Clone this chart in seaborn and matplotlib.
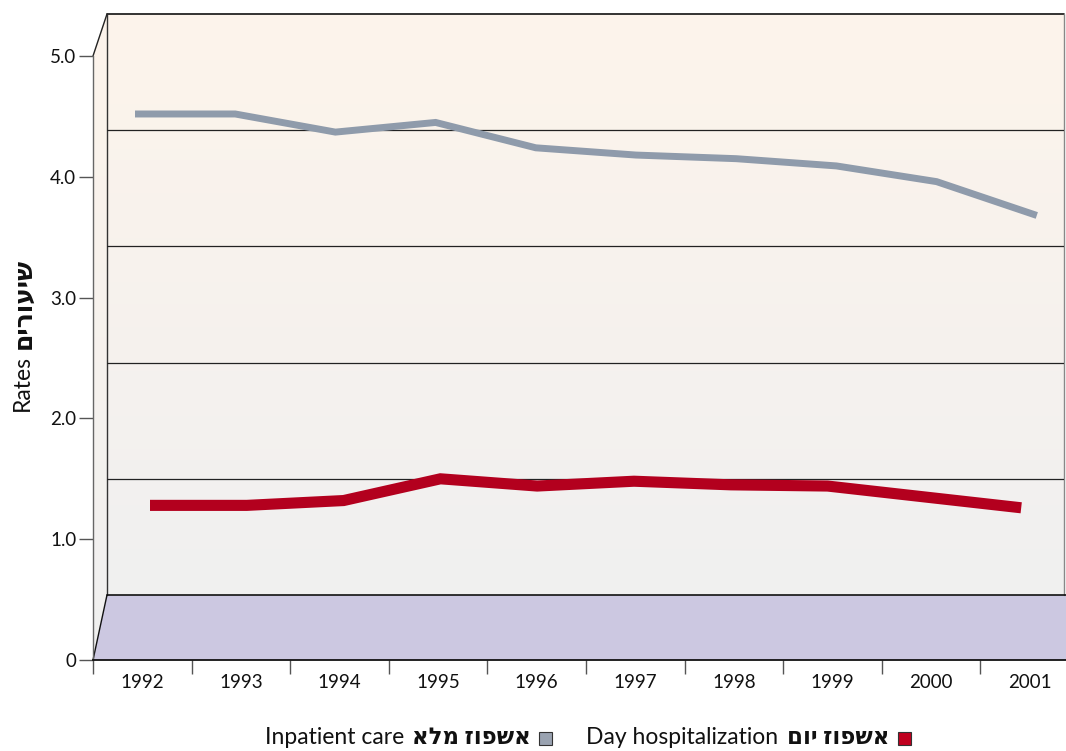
import numpy as np
import pandas as pd
import seaborn as sns
import matplotlib.pyplot as plt
from matplotlib.patches import Polygon, Rectangle
from matplotlib.offsetbox import TextArea, DrawingArea, HPacker, AnchoredOffsetbox

# data
years = [str(y) for y in range(1992, 2002)]
inpatient = [4.52, 4.52, 4.37, 4.45, 4.24, 4.18, 4.15, 4.09, 3.96, 3.68]
day_hosp = [1.28, 1.28, 1.32, 1.50, 1.44, 1.48, 1.45, 1.44, 1.35, 1.26]
ytick_vals = [0, 1, 2, 3, 4, 5]
ytick_labels = ["0", "1.0", "2.0", "3.0", "4.0", "5.0"]
grid_vals = [1, 2, 3, 4]

df = pd.DataFrame({"idx": range(len(years)), "inpatient": inpatient, "day": day_hosp})

sns.set_theme(style="white")
plt.rcParams['font.family'] = ['Lato', 'DejaVu Sans']

W, H = 1066, 751
fig = plt.figure(figsize=(W / 100, H / 100), dpi=100)
fig.patch.set_facecolor("white")


def px_rect(left, top, right, bottom):
    return [left / W, 1 - bottom / H, (right - left) / W, (bottom - top) / H]


# pseudo 3d frame geometry (pixels)
FL, FT, FB, FR = 93, 56, 660, 1079      # front plane
BL, BT, BB, BR = 107, 14, 595, 1064     # back wall

bg = fig.add_axes([0, 0, 1, 1], zorder=0)
bg.set_xlim(0, W)
bg.set_ylim(H, 0)
bg.axis("off")

top_c = np.array([253, 244, 235]) / 255
bot_c = np.array([240, 240, 240]) / 255
t = np.linspace(0, 1, 256)[:, None, None]
grad = top_c * (1 - t) + bot_c * t
bg.imshow(grad, extent=(BL, BR, BB, BT), aspect="auto", interpolation="bilinear")

side = Polygon([(FL, FB), (FL, FT), (BL, BT), (BL, BB)], closed=True, fc="none", ec="none")
bg.add_patch(side)
im = bg.imshow(grad, extent=(FL, BL, FB, BT), aspect="auto", interpolation="bilinear")
im.set_clip_path(side)

floor = Polygon([(FL, FB), (FR + 20, FB), (BR + 20, BB), (BL, BB)], closed=True,
                fc="#ccc8e1", ec="none")
bg.add_patch(floor)

bg.plot([BL, BR], [BT, BT], color="#111", lw=1.2)
bg.plot([BL, BL], [BT, BB], color="#333", lw=1)
bg.plot([BR, BR], [BT, BB], color="#888", lw=1)
bg.plot([BL, W], [BB, BB], color="#111", lw=1.2)
bg.plot([FL, BL], [FB, BB], color="#111", lw=1)
bg.plot([FL, BL], [FT, BT], color="#222", lw=1)
bg.set_xlim(0, W)
bg.set_ylim(H, 0)

# back wall gridlines
back = fig.add_axes(px_rect(BL, BT, BR, BB), zorder=1)
back.set_facecolor("none")
back.set_ylim(0, 5)
back.set_xlim(0, 1)
for g in grid_vals:
    back.axhline(g, color="#222", lw=0.9)
back.axis("off")

# series ribbons, each at its own depth
ax_g = fig.add_axes(px_rect(84.9, FT, 1086.9, FB), zorder=2)
ax_r = fig.add_axes(px_rect(101.6, FT, 1069.6, FB), zorder=2)
sns.lineplot(data=df, x="idx", y="inpatient", ax=ax_g, color="#8f9bab", linewidth=5,
             solid_capstyle="butt", solid_joinstyle="miter")
sns.lineplot(data=df, x="idx", y="day", ax=ax_r, color="#b3001e", linewidth=8,
             solid_capstyle="butt", solid_joinstyle="miter")
for a in (ax_g, ax_r):
    a.set_xlim(-0.5, 9.5)
    a.set_ylim(0, 5)
    a.set_facecolor("none")
    a.axis("off")

# front axes with ticks
ax = fig.add_axes(px_rect(FL, FT, FR, FB), zorder=3)
ax.set_facecolor("none")
ax.set_xlim(-0.5, 9.5)
ax.set_ylim(0, 5)
ax.set_yticks(ytick_vals)
ax.set_yticklabels(ytick_labels)
ax.set_xticks(range(len(years)))
ax.set_xticklabels(years)
ax.set_xticks(np.arange(-0.5, 9, 1), minor=True)
ax.tick_params(axis="x", which="major", length=0, pad=10, labelsize=13.5, labelcolor="#111")
ax.tick_params(axis="x", which="minor", length=10, width=1, color="#555", direction="out", bottom=True)
ax.tick_params(axis="y", length=10, width=1, color="#555", direction="out", left=True,
               pad=2, labelsize=13.5, labelcolor="#111")
for s in ("top", "right"):
    ax.spines[s].set_visible(False)
ax.spines["left"].set_color("#666")
ax.spines["left"].set_linewidth(1)
ax.spines["bottom"].set_color("#111")
ax.spines["bottom"].set_linewidth(1.3)
ax.set_xlabel("")
ax.set_ylabel("")

# y label: "Rates" + Hebrew (visual order)
t1 = fig.text(22 / W, 1 - 411 / H, "Rates", rotation=90, ha="center", va="bottom",
              fontsize=16.5, color="#111")
fig.canvas.draw()
bb = t1.get_window_extent()
fig.text(23 / W, (bb.y1 + 6) / H, "שיעורים"[::-1], rotation=90, ha="center", va="bottom",
         fontsize=18, fontweight="bold", color="#111")


# legend, RTL style: text then square
def entry(en, he, color):
    sq = DrawingArea(10, 10, 0, 0)
    sq.add_artist(Rectangle((0, 0), 9.5, 9.5, fc=color, ec="#333", lw=0.8))
    return HPacker(children=[TextArea(en, textprops=dict(fontsize=16.5, color="#111")),
                             TextArea(he[::-1], textprops=dict(fontsize=16.5, fontweight="bold", color="#111")),
                             sq], align="center", pad=0, sep=6)


leg = HPacker(children=[entry("Inpatient care", "אשפוז מלא", "#9aa3b1"),
                        entry("Day hospitalization", "אשפוז יום", "#c0001f")],
              align="center", pad=0, sep=24)
anch = AnchoredOffsetbox(loc="center", child=leg, bbox_to_anchor=(588 / W, 1 - 738 / H),
                         bbox_transform=fig.transFigure, frameon=False, pad=0, borderpad=0)
fig.add_artist(anch)

fig.savefig("out.png", dpi=100)
